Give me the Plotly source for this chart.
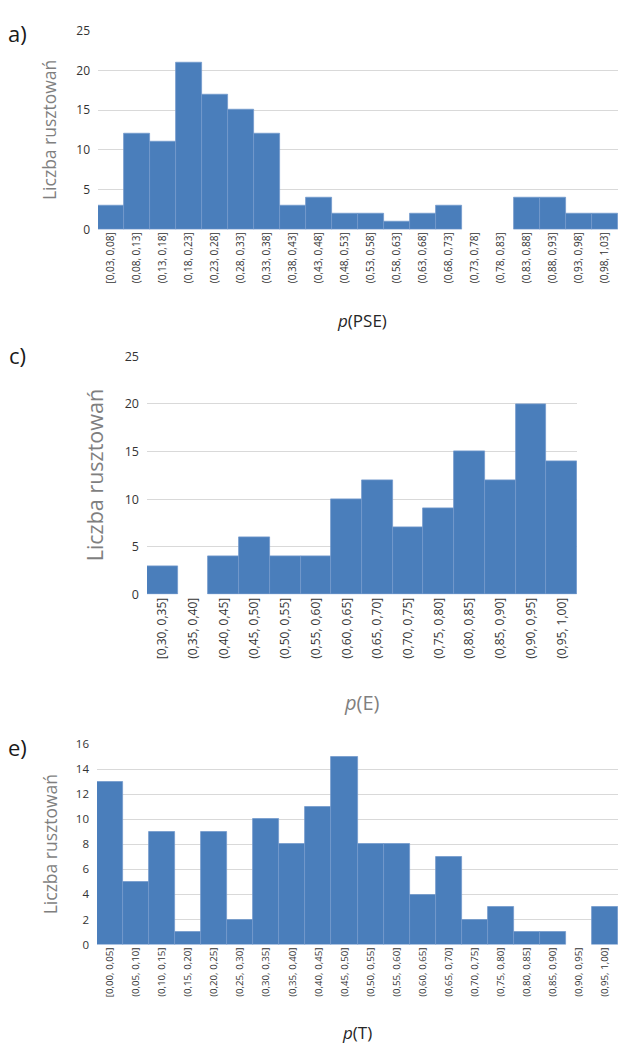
import plotly.graph_objects as go

# ---- data ----
bins_a = ["[0,03, 0,08]", "(0,08, 0,13]", "(0,13, 0,18]", "(0,18, 0,23]", "(0,23, 0,28]",
          "(0,28, 0,33]", "(0,33, 0,38]", "(0,38, 0,43]", "(0,43, 0,48]", "(0,48, 0,53]",
          "(0,53, 0,58]", "(0,58, 0,63]", "(0,63, 0,68]", "(0,68, 0,73]", "(0,73, 0,78]",
          "(0,78, 0,83]", "(0,83, 0,88]", "(0,88, 0,93]", "(0,93, 0,98]", "(0,98, 1,03]"]
counts_a = [3, 12, 11, 21, 17, 15, 12, 3, 4, 2, 2, 1, 2, 3, 0, 0, 4, 4, 2, 2]

bins_c = ["[0,30, 0,35]", "(0,35, 0,40]", "(0,40, 0,45]", "(0,45, 0,50]", "(0,50, 0,55]",
          "(0,55, 0,60]", "(0,60, 0,65]", "(0,65, 0,70]", "(0,70, 0,75]", "(0,75, 0,80]",
          "(0,80, 0,85]", "(0,85, 0,90]", "(0,90, 0,95]", "(0,95, 1,00]"]
counts_c = [3, 0, 4, 6, 4, 4, 10, 12, 7, 9, 15, 12, 20, 14]

bins_e = ["[0,00, 0,05]", "(0,05, 0,10]", "(0,10, 0,15]", "(0,15, 0,20]", "(0,20, 0,25]",
          "(0,25, 0,30]", "(0,30, 0,35]", "(0,35, 0,40]", "(0,40, 0,45]", "(0,45, 0,50]",
          "(0,50, 0,55]", "(0,55, 0,60]", "(0,60, 0,65]", "(0,65, 0,70]", "(0,70, 0,75]",
          "(0,75, 0,80]", "(0,80, 0,85]", "(0,85, 0,90]", "(0,90, 0,95]", "(0,95, 1,00]"]
counts_e = [13, 5, 9, 1, 9, 2, 10, 8, 11, 15, 8, 8, 4, 7, 2, 3, 1, 1, 0, 3]

yticks_a = [0, 5, 10, 15, 20, 25]
yticks_c = [0, 5, 10, 15, 20, 25]
yticks_e = [0, 2, 4, 6, 8, 10, 12, 14, 16]

panel_labels = ["a)", "c)", "e)"]
x_titles = ["<i>p</i>(PSE)", "<i>p</i>(E)", "<i>p</i>(T)"]
y_title = "Liczba rusztowań"

# ---- layout geometry (pixels) ----
W, H = 618, 1051
FONT = "Open Sans"
BAR = "#4a7ebb"
EDGE = "#7399cc"
GRID = "#d9d9d9"
TICKC = "#333333"


def px(x):
    return x / W


def py(y):
    return 1 - y / H


panels = [
    dict(bins=bins_a, counts=counts_a, yt=yticks_a, ymax=25, x0=98, x1=618, y0=224, y1=22,
         tickfs=10, ytickfs=12, ytit=dict(x=49, fs=17.5, col="#7f7f7f"),
         xtit=dict(x=362, y=317, fs=17, col="#262626"), lab=dict(x=17, y=24)),
    dict(bins=bins_c, counts=counts_c, yt=yticks_c, ymax=25, x0=147, x1=577, y0=595, y1=353,
         tickfs=12, ytickfs=12.5, ytit=dict(x=94, fs=21.5, col="#7f7f7f"),
         xtit=dict(x=362, y=705, fs=20, col="#7f7f7f"), lab=dict(x=17, y=352)),
    dict(bins=bins_e, counts=counts_e, yt=yticks_e, ymax=16, x0=97, x1=618, y0=951, y1=747,
         tickfs=9.7, ytickfs=11.5, ytit=dict(x=50, fs=17.5, col="#7f7f7f"),
         xtit=dict(x=357, y=1040, fs=17, col="#262626"), lab=dict(x=17, y=750)),
]

fig = go.Figure()
annotations = []
for i, p in enumerate(panels):
    sfx = "" if i == 0 else str(i + 1)
    fig.add_trace(go.Bar(
        x=p["bins"], y=p["counts"], xaxis="x" + sfx, yaxis="y" + sfx,
        marker=dict(color=BAR,
                    line=dict(color=EDGE, width=[0.8 if v > 0 else 0 for v in p["counts"]])),
        showlegend=False, hoverinfo="x+y"))
    fig.layout["xaxis" + sfx] = dict(
        domain=[px(p["x0"]), px(p["x1"])], anchor="y" + sfx,
        type="category", tickangle=-90, showgrid=False, zeroline=False, showline=False,
        ticks="", tickfont=dict(family=FONT, size=p["tickfs"], color=TICKC),
        categoryorder="array", categoryarray=p["bins"])
    fig.layout["yaxis" + sfx] = dict(
        domain=[py(p["y0"]), py(p["y1"])], anchor="x" + sfx,
        range=[0, p["ymax"]], tickvals=p["yt"], showgrid=True, gridcolor=GRID, gridwidth=1,
        zeroline=False, showline=False, ticks="",
        tickfont=dict(family=FONT, size=p["ytickfs"], color=TICKC), ticklabelstandoff=7)
    ymid = (p["y0"] + p["y1"]) / 2
    annotations.append(dict(
        x=px(p["ytit"]["x"]), y=py(ymid), xref="paper", yref="paper", text=y_title,
        textangle=-90, showarrow=False, xanchor="center", yanchor="middle",
        font=dict(family=FONT, size=p["ytit"]["fs"], color=p["ytit"]["col"])))
    annotations.append(dict(
        x=px(p["xtit"]["x"]), y=py(p["xtit"]["y"]), xref="paper", yref="paper",
        text=x_titles[i], showarrow=False, xanchor="center", yanchor="middle",
        font=dict(family=FONT, size=p["xtit"]["fs"], color=p["xtit"]["col"])))
    annotations.append(dict(
        x=px(p["lab"]["x"]), y=py(p["lab"]["y"]), xref="paper", yref="paper",
        text=panel_labels[i], showarrow=False, xanchor="center", yanchor="middle",
        font=dict(family=FONT, size=22, color="#1a1a1a")))

fig.update_layout(
    width=W, height=H, margin=dict(l=0, r=0, t=0, b=0),
    paper_bgcolor="white", plot_bgcolor="white", bargap=0,
    annotations=annotations, font=dict(family=FONT))

fig.write_html("out.html", config={"displayModeBar": False},
               post_script="document.body.style.margin='0';document.body.style.overflow='hidden';")
